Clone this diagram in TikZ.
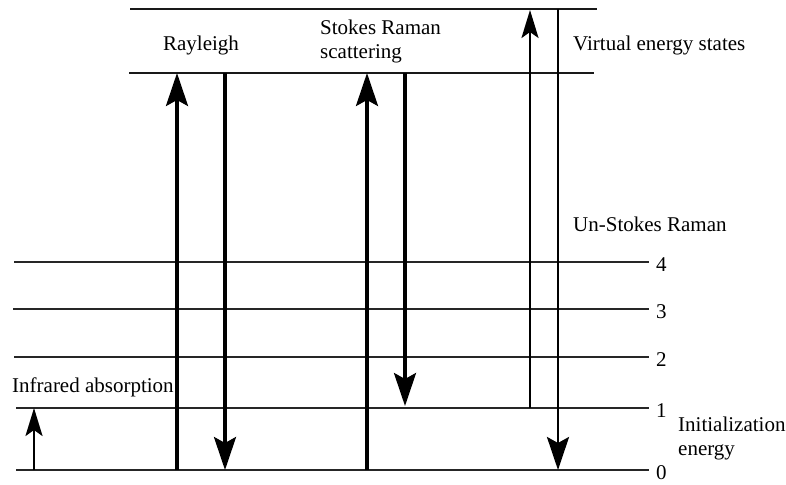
\documentclass[tikz,border=0pt]{standalone}
\usepackage{fontspec}
\setmainfont{Liberation Serif}
\usetikzlibrary{arrows.meta}
\begin{document}
\begin{tikzpicture}[x=1pt,y=-1pt,
  level/.style={line width=1.8pt,draw=black!85},
  virt/.style={line width=2.2pt,draw=black!90},
  bigarrow/.style={line width=3.3pt,-{Stealth[length=33pt,width=22pt,inset=6pt]}},
  midarrow/.style={line width=2.4pt,-{Stealth[length=28pt,width=17pt,inset=6pt]}},
  lbl/.style={font=\fontsize{21}{24}\selectfont,inner sep=0pt},
  num/.style={font=\fontsize{21}{24}\selectfont,inner sep=0pt,anchor=west}]
\useasboundingbox (0,0) rectangle (786,484);
% virtual energy states
\coordinate (vAl) at (130,9);   \coordinate (vAr) at (597,9);
\coordinate (vBl) at (129,73);  \coordinate (vBr) at (594,73);
\draw[virt] (vAl) -- (vAr);
\draw[virt] (vBl) -- (vBr);
% vibrational levels
\foreach \n/\y/\xl in {4/262/14, 3/309/13, 2/357/14, 1/408/16, 0/470/16}{
  \coordinate (L\n l) at (\xl,\y);
  \coordinate (L\n r) at (649,\y);
  \draw[level] (L\n l) -- (L\n r);
  \node[num] (n\n) at (656,\y+3) {\n};
}
% transitions
\coordinate (ir0) at (34,470);  \coordinate (ir1) at (34,408);
\draw[midarrow] (ir0) -- (ir1);
\coordinate (ry0) at (177,470); \coordinate (ryV) at (177,73);
\draw[bigarrow] (ry0) -- (ryV);
\coordinate (rdV) at (225,73);  \coordinate (rd0) at (225,470);
\draw[bigarrow] (rdV) -- (rd0);
\coordinate (su0) at (367,470); \coordinate (suV) at (367,73);
\draw[bigarrow] (su0) -- (suV);
\coordinate (sdV) at (405,73);  \coordinate (sd1) at (405,406);
\draw[bigarrow] (sdV) -- (sd1);
\coordinate (au1) at (530,408); \coordinate (auV) at (530,10);
\draw[midarrow] (au1) -- (auV);
\coordinate (adV) at (558,9);   \coordinate (ad0) at (558,470);
\draw[bigarrow,line width=2.8pt] (adV) -- (ad0);
% labels
\node[lbl] (rayleigh) at (201,45) {Rayleigh};
\node[lbl,anchor=west,align=left] (stokes) at (320,41) {Stokes Raman\\scattering};
\node[lbl,anchor=west] (virtual) at (573,45) {Virtual energy states};
\node[lbl,anchor=west] (unstokes) at (573,224) {Un-Stokes Raman};
\node[lbl,anchor=west] (infrared) at (12,387) {Infrared absorption};
\node[lbl,anchor=west,align=left] (init) at (678,438) {Initialization\\energy};
\end{tikzpicture}
\end{document}
